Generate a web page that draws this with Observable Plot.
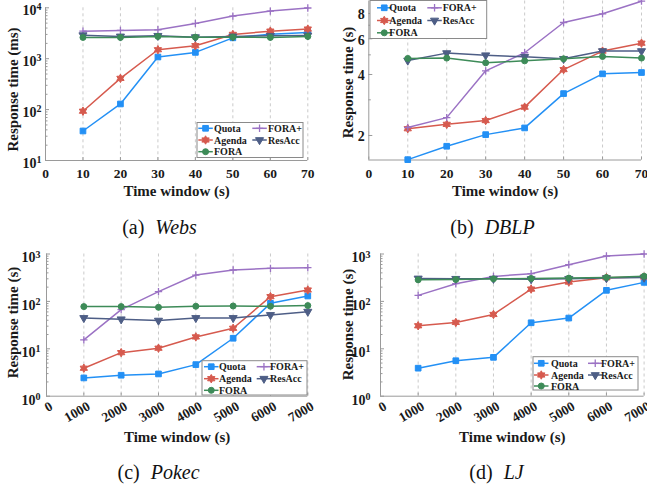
<!DOCTYPE html>
<html><head><meta charset="utf-8">
<script src="https://cdn.jsdelivr.net/npm/d3@7"></script>
<script src="https://cdn.jsdelivr.net/npm/@observablehq/plot@0.6"></script>
<style>
html,body{margin:0;padding:0;background:#fff;}
#root{position:relative;width:647px;height:489px;overflow:hidden;font-family:"Liberation Serif",serif;}
#root svg{position:absolute;}
.cap{position:absolute;transform:translate(-50%,-50%);font-size:20px;line-height:1;white-space:nowrap;color:#111;font-family:"Liberation Serif",serif;}
</style></head><body><div id="root"></div>
<script>
// ---------- data ----------
const seriesNames = ["Quota", "Agenda", "FORA", "FORA+", "ResAcc"];
const windowsShort = [10, 20, 30, 40, 50, 60, 70];
const windowsLong = [1000, 2000, 3000, 4000, 5000, 6000, 7000];
const ticksShort = [0, 10, 20, 30, 40, 50, 60, 70];
const ticksLong = [0, 1000, 2000, 3000, 4000, 5000, 6000, 7000];

// (a) Webs, ms
const websQuota   = [38, 129, 1080, 1330, 2570, 3030, 3280];
const websAgenda  = [93, 411, 1500, 1800, 3000, 3480, 3820];
const websFORA    = [2620, 2620, 2740, 2650, 2650, 2620, 2740];
const websFORAp   = [3480, 3600, 3700, 4930, 6870, 8610, 9900];
const websResAcc  = [2900, 2740, 2820, 2650, 2740, 2820, 2870];
const websTicks   = [10, 100, 1000, 10000];

// (b) DBLP, s
const dblpQuota   = [1.52, 1.77, 2.02, 2.18, 3.22, 4.03, 4.09];
const dblpAgenda  = [2.16, 2.27, 2.37, 2.76, 4.23, 5.22, 5.71];
const dblpFORA    = [4.80, 4.82, 4.57, 4.67, 4.78, 4.91, 4.82];
const dblpFORAp   = [2.19, 2.45, 4.17, 5.12, 7.22, 7.97, 9.2];
const dblpResAcc  = [4.69, 5.10, 4.98, 4.89, 4.78, 5.22, 5.22];
const dblpTicks   = [2, 4, 6, 8];

// (c) Pokec, s
const pokecQuota  = [2.43, 2.77, 2.95, 4.64, 16.7, 91, 130];
const pokecAgenda = [3.89, 8.3, 10.3, 17.8, 27.1, 126, 174];
const pokecFORA   = [77.6, 77.6, 75, 79, 80, 79, 81.5];
const pokecFORAp  = [15.4, 67, 161, 360, 460, 499, 515];
const pokecResAcc = [44.8, 42, 39.4, 44.8, 44.8, 51.8, 60.8];
const pokecTicks  = [1, 10, 100, 1000];

// (d) LJ, s
const ljQuota     = [3.9, 5.6, 6.6, 35.4, 44.5, 171, 252];
const ljAgenda    = [30.6, 36, 53, 182, 256, 316, 327];
const ljFORA      = [285, 290, 300, 305, 310, 320, 340];
const ljFORAp     = [134, 236, 337, 385, 596, 907, 1000];
const ljResAcc    = [305, 300, 300, 295, 300, 310, 318];
const ljTicks     = [1, 10, 100, 1000];

// ---------- styles ----------
const colors = {"Quota": "#2390f5", "Agenda": "#d65a4e", "FORA": "#3d8b58", "FORA+": "#9b72c4", "ResAcc": "#4e5e86"};
const hexagram = {draw(ctx, size) {
  const R = Math.sqrt(size) * 0.72, r = R / Math.sqrt(3);
  for (let i = 0; i < 12; i++) {
    const a = -Math.PI / 2 + i * Math.PI / 6, rr = i % 2 ? r : R;
    const px = rr * Math.cos(a), py = rr * Math.sin(a);
    if (i === 0) ctx.moveTo(px, py); else ctx.lineTo(px, py);
  }
  ctx.closePath();
}};
const triDown = {draw(ctx, size) {
  const y = -Math.sqrt(size / (Math.sqrt(3) * 3));
  ctx.moveTo(0, -2 * y);
  ctx.lineTo(-Math.sqrt(3) * y, y);
  ctx.lineTo(Math.sqrt(3) * y, y);
  ctx.closePath();
}};
const symbols = {"Quota": d3.symbolSquare, "Agenda": hexagram, "FORA": d3.symbolCircle, "FORA+": d3.symbolPlus, "ResAcc": triDown};
const radii = {"Quota": 3.2, "Agenda": 3.3, "FORA": 3, "FORA+": 2.5, "ResAcc": 3};
const drawOrder = ["Quota", "Agenda", "FORA+", "ResAcc", "FORA"];
const axisGray = "#9a9a9a";
const textColor = "#1a1a1a";

const panels = [
  {left: 0, top: 0, width: 323, height: 210, mL: 45, mR: 15.7, mT: 7.3, mB: 50,
   xs: windowsShort, xTicks: ticksShort, xDomain: [0, 70],
   yDomain: [10, 10000], yTicks: websTicks, sup: true, yPad: 4, yDy: 3,
   ylabel: "Response time (ms)", yl: [-32.3, 5.3], xlDy: 30.7, rotate: 0,
   data: {"Quota": websQuota, "Agenda": websAgenda, "FORA": websFORA, "FORA+": websFORAp, "ResAcc": websResAcc},
   legend: {x: 197, y: 122.5, w: 106, h: 35, rows: [5.8, 17.5, 29.2], c1: 1.3, t1: 17, c2: 55.3, t2: 71},
   cap: {x: 159.5, y: 227, a: "(a)", n: "Webs"}},
  {left: 320, top: 0, width: 327, height: 210, mL: 48.3, mR: 6, mT: 0.5, mB: 50.5,
   xs: windowsShort, xTicks: ticksShort, xDomain: [0, 70],
   yDomain: [1.514, 9.22], yTicks: dblpTicks, sup: false, yPad: 4, yDy: 1.5, yMinor: [3, 5, 7],
   ylabel: "Response time (s)", yl: [-20.5, 2], xlDy: 31.2, rotate: 0,
   data: {"Quota": dblpQuota, "Agenda": dblpAgenda, "FORA": dblpFORA, "FORA+": dblpFORAp, "ResAcc": dblpResAcc},
   legend: {x: 50, y: 0.5, w: 116.7, h: 38, rows: [7.3, 20, 32.3], c1: 7, t1: 19.3, c2: 57.3, t2: 72.7},
   cap: {x: 492.5, y: 227, a: "(b)", n: "DBLP"}},
  {left: 0, top: 210, width: 323, height: 240, mL: 46, mR: 15.7, mT: 43.5, mB: 54.3,
   xs: windowsLong, xTicks: ticksLong, xDomain: [0, 7000],
   yDomain: [1, 1000], yTicks: pokecTicks, sup: true, yPad: 6, yDy: 4,
   ylabel: "Response time (s)", yl: [-33.3, -2.6], xlDy: 41.3, rotate: -30,
   data: {"Quota": pokecQuota, "Agenda": pokecAgenda, "FORA": pokecFORA, "FORA+": pokecFORAp, "ResAcc": pokecResAcc},
   legend: {x: 202, y: 150.7, w: 105, h: 34.3, rows: [6, 18, 29.6], c1: 2, t1: 17, c2: 54.7, t2: 68},
   cap: {x: 158.5, y: 472, a: "(c)", n: "Pokec"}},
  {left: 320, top: 210, width: 327, height: 240, mL: 60, mR: 3.4, mT: 43.5, mB: 54.3,
   xs: windowsLong, xTicks: ticksLong, xDomain: [0, 7000],
   yDomain: [1, 1000], yTicks: ljTicks, sup: true, yPad: 10, yDy: 4,
   ylabel: "Response time (s)", yl: [-32, -0.6], xlDy: 41.3, rotate: -30,
   data: {"Quota": ljQuota, "Agenda": ljAgenda, "FORA": ljFORA, "FORA+": ljFORAp, "ResAcc": ljResAcc},
   legend: {x: 213, y: 146.7, w: 105, h: 33.3, rows: [6.6, 18.3, 29.3], c1: 1, t1: 18, c2: 55, t2: 68},
   cap: {x: 496.5, y: 472, a: "(d)", n: "LJ"}}
];

function logMinor(domain) {
  const out = [];
  for (let k = Math.floor(Math.log10(domain[0])); k <= Math.ceil(Math.log10(domain[1])); k++)
    for (let m = 2; m <= 9; m++) { const v = m * 10 ** k; if (v > domain[0] && v < domain[1]) out.push(v); }
  return out;
}

const root = document.getElementById("root");

for (const P of panels) {
  const frameW = P.width - P.mL - P.mR;
  const frameH = P.height - P.mT - P.mB;
  const marks = [];
  marks.push(Plot.ruleX(P.xs, {stroke: "#c4c4c4", strokeDasharray: "3,3", strokeWidth: 0.9}));
  marks.push(Plot.ruleX([P.xDomain[0]], {stroke: axisGray}));
  marks.push(Plot.ruleY([P.yDomain[0]], {stroke: axisGray}));
  marks.push(Plot.tickY(P.yTicks, {y: d => d, insetRight: frameW - 4, stroke: axisGray}));
  marks.push(Plot.tickY(P.yMinor ?? logMinor(P.yDomain), {y: d => d, insetRight: frameW - 2.5, stroke: axisGray}));
  marks.push(Plot.tickX(P.xTicks, {x: d => d, insetTop: frameH - 3, stroke: axisGray}));
  for (const name of drawOrder) {
    const rows = P.xs.map((x, i) => ({x, y: P.data[name][i], series: name}));
    marks.push(Plot.line(rows, {x: "x", y: "y", stroke: colors[name], strokeWidth: 1.5}));
    const isStroke = name === "FORA+";
    marks.push(Plot.dot(rows, {x: "x", y: "y", symbol: symbols[name], r: radii[name],
      fill: isStroke ? "none" : colors[name], stroke: colors[name], strokeWidth: isStroke ? 1.3 : 1}));
  }
  marks.push(Plot.axisY({ticks: P.yTicks, tickSize: 0, tickPadding: P.yPad, dy: P.yDy, fontSize: 14, label: null,
    tickFormat: P.sup ? (d => "10^" + Math.round(Math.log10(d))) : (d => String(d))}));
  if (P.rotate) {
    marks.push(Plot.axisX({ticks: P.xTicks, tickSize: 0, tickPadding: 9, tickRotate: P.rotate, textAnchor: "end", dx: 5, fontSize: 13.5, label: null, tickFormat: d => String(d)}));
  } else {
    marks.push(Plot.axisX({ticks: P.xTicks, tickSize: 0, tickPadding: 8, fontSize: 13.5, label: null, tickFormat: d => String(d)}));
  }
  marks.push(Plot.text([P.ylabel], {text: d => d, frameAnchor: "left", rotate: -90, dx: P.yl[0], dy: P.yl[1],
    textAnchor: "middle", lineAnchor: "middle", fontSize: 15, fontWeight: "bold", fill: textColor}));
  marks.push(Plot.text(["Time window (s)"], {text: d => d, frameAnchor: "bottom", dy: P.xlDy,
    textAnchor: "middle", lineAnchor: "middle", fontSize: 15, fontWeight: "bold", fill: textColor}));

  const svg = Plot.plot({
    width: P.width, height: P.height,
    marginLeft: P.mL, marginRight: P.mR, marginTop: P.mT, marginBottom: P.mB,
    x: {type: "linear", domain: P.xDomain},
    y: {type: "log", domain: P.yDomain},
    style: {fontFamily: "Liberation Serif", fontWeight: "bold", color: textColor, background: "transparent", overflow: "visible"},
    marks
  });
  svg.style.left = P.left + "px";
  svg.style.top = P.top + "px";

  if (P.sup) {
    d3.select(svg).selectAll('g[aria-label="y-axis tick label"] text').each(function () {
      const t = this.textContent;
      const m = /^10\^(-?\d+)$/.exec(t);
      if (!m) return;
      this.textContent = "";
      d3.select(this).append("tspan").text("10");
      d3.select(this).append("tspan").attr("dy", "-0.48em").attr("font-size", "10px").text(m[1]);
    });
  }

  const L = P.legend;
  const g = d3.select(svg).append("g").attr("aria-label", "legend")
    .attr("font-family", "Liberation Serif").attr("font-weight", "bold").attr("font-size", 10)
    .attr("fill", textColor).attr("text-anchor", "start");
  g.append("rect").attr("x", L.x).attr("y", L.y).attr("width", L.w).attr("height", L.h)
    .attr("fill", "#fff").attr("stroke", "#8a8a8a").attr("stroke-width", 1);
  const slots = {"Quota": [0, 0], "Agenda": [0, 1], "FORA": [0, 2], "FORA+": [1, 0], "ResAcc": [1, 1]};
  for (const name of seriesNames) {
    const [c, r] = slots[name];
    const sx = L.x + (c ? L.c2 : L.c1), tx = L.x + (c ? L.t2 : L.t1), yy = L.y + L.rows[r];
    g.append("line").attr("x1", sx).attr("x2", sx + 14.5).attr("y1", yy).attr("y2", yy)
      .attr("stroke", colors[name]).attr("stroke-width", 1.5);
    const isStroke = name === "FORA+";
    g.append("path").attr("transform", `translate(${sx + 7.25},${yy})`)
      .attr("d", d3.symbol(symbols[name], radii[name] * radii[name] * Math.PI)())
      .attr("fill", isStroke ? "none" : colors[name]).attr("stroke", colors[name]).attr("stroke-width", isStroke ? 1.3 : 1);
    g.append("text").attr("x", tx).attr("y", yy).attr("dy", "0.35em").attr("text-anchor", "start").text(name);
  }
  root.appendChild(svg);

  const cap = document.createElement("div");
  cap.className = "cap";
  cap.style.left = P.cap.x + "px";
  cap.style.top = P.cap.y + "px";
  cap.innerHTML = P.cap.a + '<span style="display:inline-block;width:11px"></span><i>' + P.cap.n + "</i>";
  root.appendChild(cap);
}
</script></body></html>
